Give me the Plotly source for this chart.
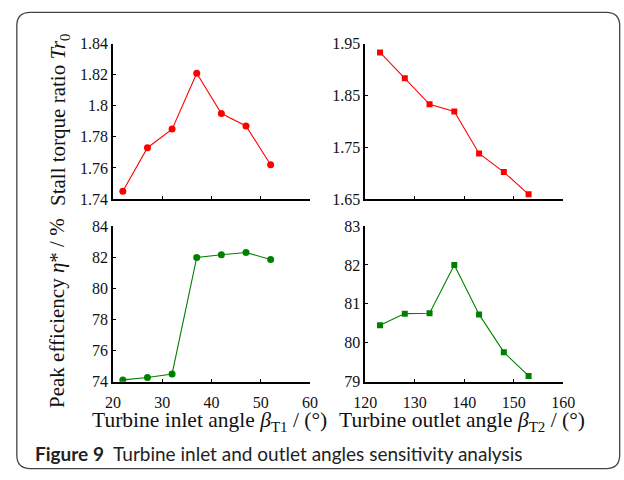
import plotly.graph_objects as go

W, H = 624, 480

# ---- data ----
inlet_angle = [22, 27, 32, 37, 42, 47, 52]
inlet_torque = [1.745, 1.773, 1.785, 1.821, 1.795, 1.787, 1.762]
inlet_eff = [74.12, 74.27, 74.5, 81.98, 82.15, 82.3, 81.85]

outlet_angle = [123, 128, 133, 138, 143, 148, 153]
outlet_torque = [1.933, 1.883, 1.833, 1.819, 1.738, 1.702, 1.659]
outlet_eff = [80.45, 80.75, 80.76, 82.0, 80.73, 79.76, 79.15]

tl_yticks = [1.74, 1.76, 1.78, 1.80, 1.82, 1.84]
tl_ytext = ["1.74", "1.76", "1.78", "1.8", "1.82", "1.84"]
tr_yticks = [1.65, 1.75, 1.85, 1.95]
tr_ytext = ["1.65", "1.75", "1.85", "1.95"]
bl_yticks = [74, 76, 78, 80, 82, 84]
br_yticks = [79, 80, 81, 82, 83]
inlet_xticks = [20, 30, 40, 50, 60]
outlet_xticks = [120, 130, 140, 150, 160]

RED = "#ff0000"
GREEN = "#008000"
SERIF = "Liberation Serif"


def px(x):
    return x / W


def py(y):
    return 1 - y / H


fig = go.Figure()

fig.add_trace(go.Scatter(x=inlet_angle, y=inlet_torque, mode="lines+markers",
                         line=dict(color=RED, width=1.1),
                         marker=dict(color=RED, size=7, symbol="circle"),
                         xaxis="x", yaxis="y", showlegend=False))
fig.add_trace(go.Scatter(x=outlet_angle, y=outlet_torque, mode="lines+markers",
                         line=dict(color=RED, width=1.1),
                         marker=dict(color=RED, size=6, symbol="square"),
                         xaxis="x2", yaxis="y2", showlegend=False))
fig.add_trace(go.Scatter(x=inlet_angle, y=inlet_eff, mode="lines+markers",
                         line=dict(color=GREEN, width=1.1),
                         marker=dict(color=GREEN, size=7, symbol="circle"),
                         xaxis="x3", yaxis="y3", showlegend=False))
fig.add_trace(go.Scatter(x=outlet_angle, y=outlet_eff, mode="lines+markers",
                         line=dict(color=GREEN, width=1.1),
                         marker=dict(color=GREEN, size=6, symbol="square"),
                         xaxis="x4", yaxis="y4", showlegend=False))


def axis_common():
    return dict(showline=True, linecolor="black", linewidth=1.5,
                ticks="inside", ticklen=3, tickwidth=1, tickcolor="black",
                showgrid=False, zeroline=False, mirror=False,
                tickfont=dict(family=SERIF, size=16, color="#111"))


xl = (px(105), px(310))
xr = (px(367.3), px(573.3))
yt = (py(198), py(37))
yb = (py(387.5), py(226))

fig.update_layout(
    width=W, height=H,
    margin=dict(l=0, r=0, t=0, b=0),
    paper_bgcolor="white", plot_bgcolor="white",
    font=dict(family=SERIF),
    xaxis=dict(domain=xl, range=[20, 60], tickvals=inlet_xticks,
               showticklabels=False, anchor="y", **axis_common()),
    yaxis=dict(domain=yt, range=[1.74, 1.84], tickvals=tl_yticks,
               ticktext=tl_ytext, anchor="x", **axis_common()),
    xaxis2=dict(domain=xr, range=[120, 160], tickvals=outlet_xticks,
                showticklabels=False, anchor="y2", **axis_common()),
    yaxis2=dict(domain=yt, range=[1.65, 1.95], tickvals=tr_yticks,
                ticktext=tr_ytext, anchor="x2", **axis_common()),
    xaxis3=dict(domain=xl, range=[20, 60], tickvals=inlet_xticks,
                anchor="y3", ticklabelstandoff=5, **axis_common()),
    yaxis3=dict(domain=yb, range=[74, 84], tickvals=bl_yticks,
                anchor="x3", **axis_common()),
    xaxis4=dict(domain=xr, range=[120, 160], tickvals=outlet_xticks,
                anchor="y4", ticklabelstandoff=5, **axis_common()),
    yaxis4=dict(domain=yb, range=[79, 83], tickvals=br_yticks,
                anchor="x4", **axis_common()),
)

ytitle_font = dict(family=SERIF, size=21, color="#111")
xtitle_font = dict(family=SERIF, size=21.5, color="#111")
annotations = [
    dict(text="Stall torque ratio <i>Tr</i><sub>0</sub>", x=px(49), y=py(116),
         textangle=-90, font=ytitle_font),
    dict(text="Peak efficiency <i>η</i>* / %", x=px(47), y=py(316),
         textangle=-90, font=ytitle_font),
    dict(text="Turbine inlet angle <i>β</i><sub>T1</sub> / (°)", x=px(205), y=py(428.5),
         font=xtitle_font),
    dict(text="Turbine outlet angle <i>β</i><sub>T2</sub> / (°)", x=px(468), y=py(428.5),
         font=xtitle_font),
    dict(text="<b>Figure 9</b>  Turbine inlet and outlet angles sensitivity analysis",
         x=px(22), y=py(462), xanchor="left",
         font=dict(family="Lato", size=19, color="#222")),
]
for a in annotations:
    a.setdefault("xanchor", "center")
    a.update(xref="paper", yref="paper", yanchor="middle", showarrow=False)
fig.update_layout(annotations=annotations)

# rounded border frame
L, T, R, B, r = px(5), py(4.5), px(632), py(477.5), 14
rx, ry = r / W, r / H
path = (f"M {L+rx} {T} L {R-rx} {T} Q {R} {T} {R} {T-ry} "
        f"L {R} {B+ry} Q {R} {B} {R-rx} {B} L {L+rx} {B} "
        f"Q {L} {B} {L} {B+ry} L {L} {T-ry} Q {L} {T} {L+rx} {T} Z")
fig.add_shape(type="path", path=path, xref="paper", yref="paper",
              line=dict(color="#444", width=1.3))

fig.write_html("out.html")
